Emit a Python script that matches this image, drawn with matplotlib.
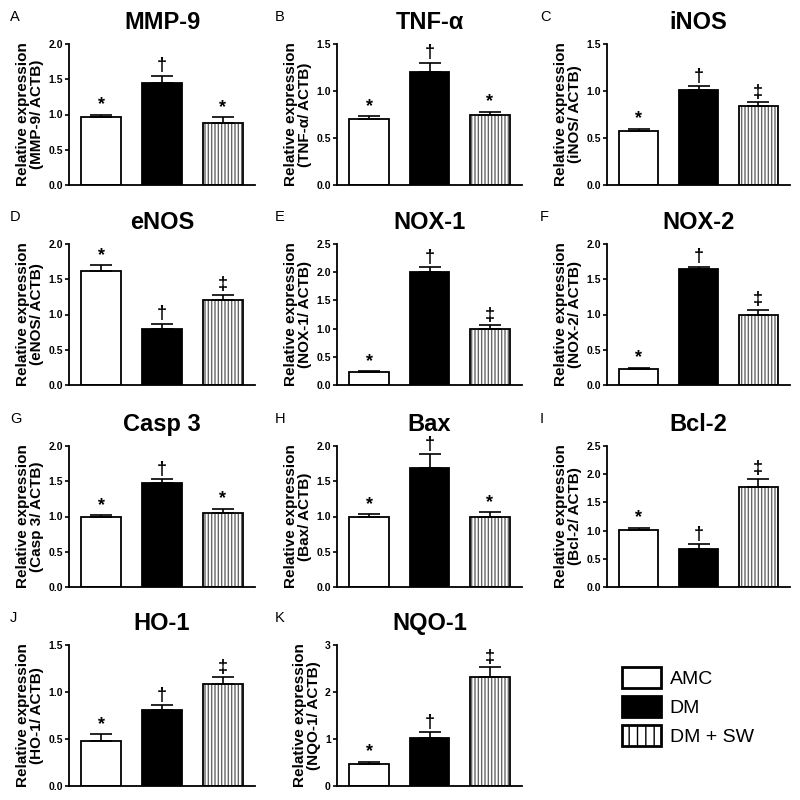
import matplotlib
matplotlib.use("Agg")
import matplotlib.pyplot as plt
from matplotlib.patches import Patch

plt.rcParams['font.family'] = ['Liberation Sans', 'DejaVu Sans']

# data
letters = ["A", "B", "C", "D", "E", "F", "G", "H", "I", "J", "K"]
genes = ["MMP-9", "TNF-α", "iNOS", "eNOS", "NOX-1", "NOX-2",
         "Casp 3", "Bax", "Bcl-2", "HO-1", "NQO-1"]
groups = ["AMC", "DM", "DM + SW"]

amc = [0.96, 0.70, 0.57, 1.61, 0.23, 0.22, 1.00, 1.00, 1.01, 0.48, 0.46]
dm = [1.45, 1.20, 1.01, 0.79, 2.01, 1.64, 1.47, 1.69, 0.68, 0.81, 1.02]
dm_sw = [0.88, 0.74, 0.84, 1.21, 1.00, 1.00, 1.05, 0.99, 1.77, 1.09, 2.31]

amc_err = [0.04, 0.03, 0.03, 0.09, 0.015, 0.025, 0.02, 0.03, 0.04, 0.07, 0.06]
dm_err = [0.10, 0.10, 0.04, 0.08, 0.08, 0.04, 0.06, 0.19, 0.08, 0.05, 0.13]
dm_sw_err = [0.08, 0.04, 0.04, 0.07, 0.06, 0.07, 0.06, 0.07, 0.15, 0.07, 0.22]

amc_sig = ["*"] * 11
dm_sig = ["†"] * 11
dm_sw_sig = ["*", "*", "‡", "‡", "‡", "‡", "*", "*", "‡", "‡", "‡"]

ymax = [2.0, 1.5, 1.5, 2.0, 2.5, 2.0, 2.0, 2.0, 2.5, 1.5, 3.0]
ystep = [0.5, 0.5, 0.5, 0.5, 0.5, 0.5, 0.5, 0.5, 0.5, 0.5, 1.0]

# layout in pixels (800 x 800 figure)
W = H = 800
col_left = [69, 337, 607]
col_w = [186, 185, 183]
row_top = [44, 244, 446, 645]
ax_h = 141
letter_x = [10, 275, 540]

fig = plt.figure(figsize=(8, 8), dpi=100)

xpos = [0, 1, 2]
for i, gene in enumerate(genes):
    r, c = divmod(i, 3)
    left = col_left[c] / W
    bottom = 1 - (row_top[r] + ax_h) / H
    ax = fig.add_axes([left, bottom, col_w[c] / W, ax_h / H])

    vals = [amc[i], dm[i], dm_sw[i]]
    errs = [amc_err[i], dm_err[i], dm_sw_err[i]]
    sigs = [amc_sig[i], dm_sig[i], dm_sw_sig[i]]

    ax.bar(xpos[0], vals[0], width=0.65, color="white", edgecolor="black", linewidth=1.3, zorder=2)
    ax.bar(xpos[1], vals[1], width=0.65, color="black", edgecolor="black", linewidth=1.3, zorder=2)
    ax.bar(xpos[2], vals[2], width=0.65, color="white", edgecolor="#666666", hatch="|||||",
           linewidth=0, zorder=2)
    ax.bar(xpos[2], vals[2], width=0.65, fill=False, edgecolor="black", linewidth=1.3, zorder=2.5)

    ax.errorbar(xpos, vals, yerr=[[0, 0, 0], errs], fmt="none", ecolor="black",
                elinewidth=1.2, capsize=8, capthick=1.2, zorder=3)
    for x, v, e, s in zip(xpos, vals, errs, sigs):
        ax.annotate(s, (x, v + e), xytext=(0, 1), textcoords="offset points",
                    ha="center", va="bottom", fontsize=13, fontweight="bold")

    ax.set_xlim(-0.53, 2.53)
    ax.set_ylim(0, ymax[i])
    nt = int(round(ymax[i] / ystep[i]))
    ticks = [k * ystep[i] for k in range(nt + 1)]
    ax.set_yticks(ticks)
    if ystep[i] >= 1:
        ax.set_yticklabels(["%d" % t for t in ticks])
    else:
        ax.set_yticklabels(["%.1f" % t for t in ticks])
    ax.set_xticks([])
    for lab in ax.get_yticklabels():
        lab.set_fontweight("bold")
    ax.tick_params(axis="y", direction="out", length=3, width=1.2, labelsize=7.5, pad=1.5)
    ax.spines["top"].set_visible(False)
    ax.spines["right"].set_visible(False)
    ax.spines["left"].set_linewidth(1.3)
    ax.spines["bottom"].set_linewidth(1.3)

    ax.set_title(gene, fontsize=17, fontweight="bold", pad=11)
    ax.set_ylabel("Relative expression\n(%s/ ACTB)" % gene, fontsize=11,
                  fontweight="bold", labelpad=3, linespacing=1.0)

    fig.text(letter_x[c] / W, 1 - (row_top[r] - 27) / H, letters[i], fontsize=10.5,
             ha="left", va="center")

handles = [
    Patch(facecolor="white", edgecolor="black", linewidth=2),
    Patch(facecolor="black", edgecolor="black", linewidth=2),
    Patch(facecolor="white", edgecolor="black", linewidth=2, hatch="||"),
]
fig.legend(handles, groups, loc="upper left", bbox_to_anchor=(622 / W, 1 - 667 / H),
           frameon=False, fontsize=14, handlelength=2.0, handleheight=1.25,
           labelspacing=0.42, handletextpad=0.45, borderpad=0, borderaxespad=0)

fig.savefig("out.png", dpi=100)
